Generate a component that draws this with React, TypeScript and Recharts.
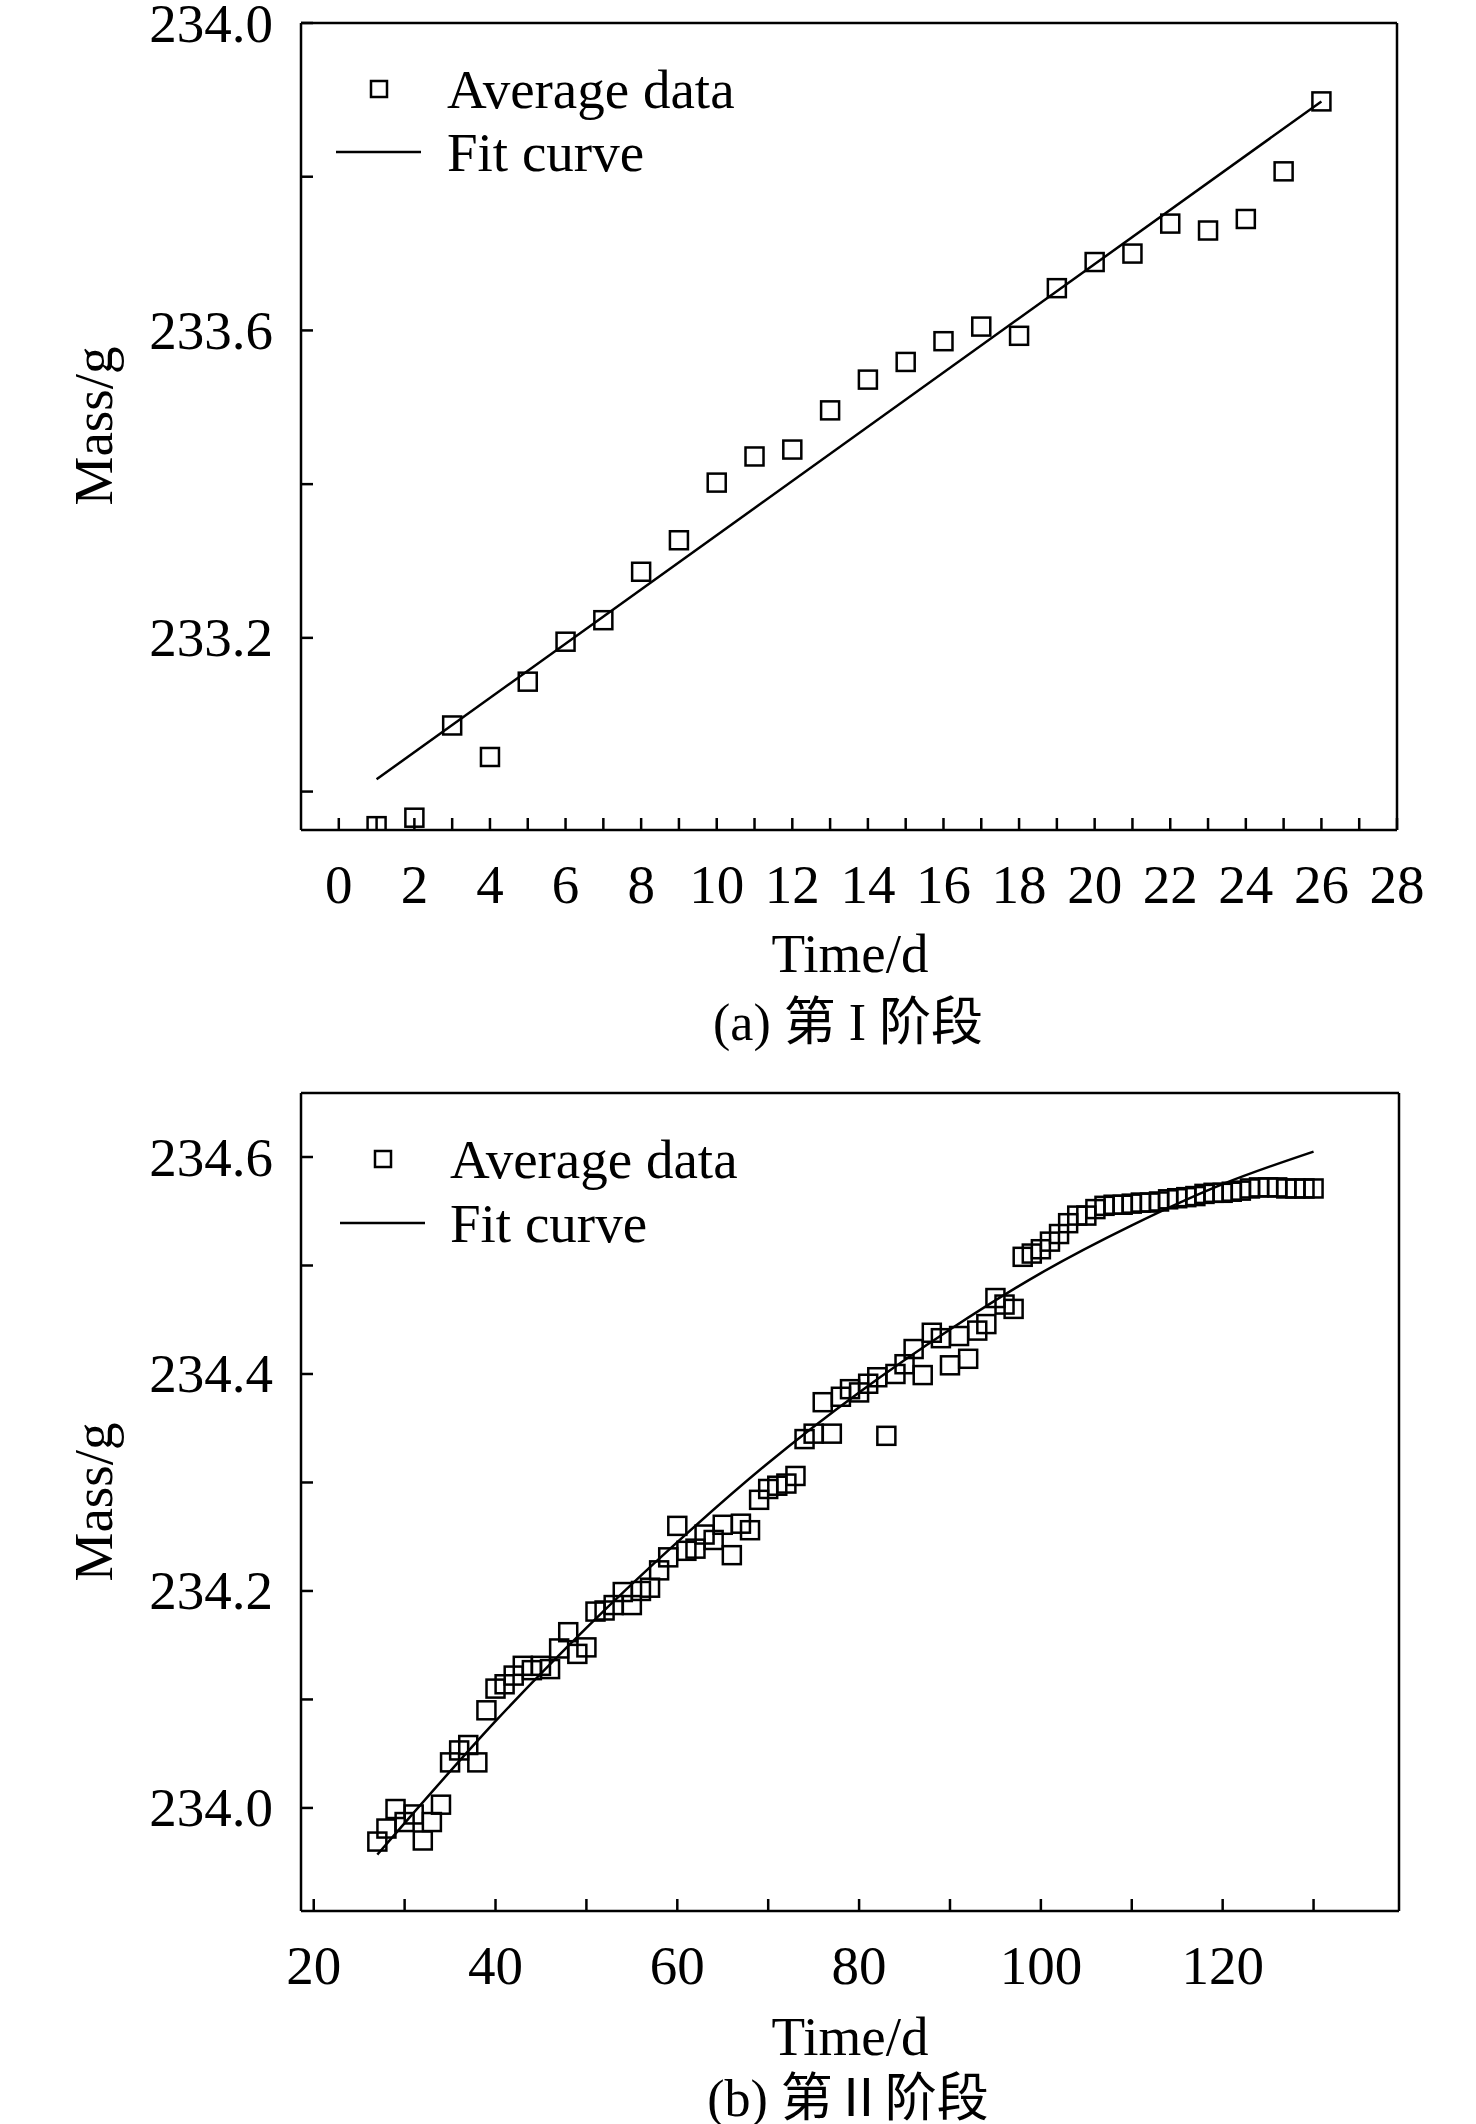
import React from 'react';
import { ComposedChart, Scatter, Line, XAxis, YAxis } from 'recharts';

const daysA = [1,2,3,4,5,6,7,8,9,10,11,12,13,14,15,16,17,18,19,20,21,22,23,24,25,26];
const massA = [232.955,232.966,233.086,233.045,233.143,233.195,233.223,233.286,233.327,233.402,233.436,233.445,233.496,233.536,233.559,233.586,233.605,233.593,233.655,233.689,233.700,233.739,233.730,233.745,233.807,233.898];
const fitDaysA = [1, 26];
const fitMassA = [233.016, 233.898];

const daysB = [27,28,29,30,31,32,33,34,35,36,37,38,39,40,41,42,43,44,45,46,47,48,49,50,51,52,53,54,55,56,57,58,59,60,61,62,63,64,65,66,67,68,69,70,71,72,73,74,75,76,77,78,79,80,81,82,83,84,85,86,87,88,89,90,91,92,93,94,95,96,97,98,99,100,101,102,103,104,105,106,107,108,109,110,111,112,113,114,115,116,117,118,119,120,121,122,123,124,125,126,127,128,129,130];
const massB = [233.969,233.981,233.999,233.987,233.994,233.970,233.987,234.003,234.042,234.053,234.058,234.042,234.090,234.110,234.114,234.122,234.131,234.127,234.131,234.128,234.147,234.162,234.142,234.148,234.181,234.182,234.187,234.199,234.187,234.200,234.203,234.219,234.231,234.260,234.237,234.239,234.252,234.247,234.261,234.233,234.262,234.256,234.284,234.294,234.297,234.299,234.306,234.340,234.345,234.374,234.345,234.379,234.386,234.383,234.391,234.397,234.343,234.400,234.409,234.423,234.399,234.438,234.433,234.408,234.435,234.414,234.440,234.446,234.470,234.464,234.460,234.508,234.511,234.515,234.522,234.529,234.539,234.546,234.546,234.552,234.555,234.556,234.556,234.557,234.558,234.558,234.559,234.561,234.562,234.563,234.564,234.566,234.567,234.567,234.568,234.569,234.571,234.572,234.572,234.572,234.571,234.571,234.571,234.571];
const fitDaysB = [27,30,40,50,60,70,80,90,100,110,120,130];
const fitMassB = [233.957,233.986,234.080,234.166,234.245,234.318,234.383,234.441,234.493,234.537,234.575,234.605];

const xTicksA = [0,1,2,3,4,5,6,7,8,9,10,11,12,13,14,15,16,17,18,19,20,21,22,23,24,25,26,27,28];
const yTicksA = [233.0,233.2,233.4,233.6,233.8,234.0];
const xTicksB = [20,30,40,50,60,70,80,90,100,110,120,130];
const yTicksB = [234.0,234.1,234.2,234.3,234.4,234.5,234.6];

const FONT = '"Liberation Serif", "Times New Roman", serif';
const FS = 55;

const zip = (xs: number[], ys: number[]) => xs.map((x, i) => ({ x, y: ys[i] }));

const Square = (props: any) => {
  const { cx, cy } = props;
  if (cx == null || cy == null) return null;
  return <rect x={cx - 9} y={cy - 9} width={18} height={18} fill="none" stroke="#000" strokeWidth={2.5} />;
};

const makeTick = (isMajor: (v: number) => boolean, fmt: (v: number) => string, anchor: string) => (props: any) => {
  const { x, y, payload } = props;
  const v = payload.value;
  if (!isMajor(v)) return <g />;
  return (
    <text x={x} y={y} textAnchor={anchor} dominantBaseline="central" fontFamily={FONT} fontSize={FS} fill="#000">
      {fmt(v)}
    </text>
  );
};

function Panel(props: any) {
  const { top, height, margin, scatter, fit, xDomain, yDomain, xTicks, yTicks, xMajor, yMajor, legend, caption, titleY, capY, yLabelY } = props;
  const axisStyle = { stroke: '#000', strokeWidth: 2.5 };
  return (
    <div style={{ position: 'absolute', left: 0, top, width: 1476, height }}>
      <ComposedChart width={1476} height={height} margin={margin}>
        <XAxis xAxisId="b" dataKey="x" type="number" domain={xDomain} ticks={xTicks} allowDataOverflow height={1}
          axisLine={axisStyle} tickLine={axisStyle} tickSize={-12} tickMargin={66} interval={0}
          tick={makeTick(xMajor, (v) => String(v), 'middle')} />
        <XAxis xAxisId="t" dataKey="x" type="number" domain={xDomain} allowDataOverflow orientation="top" height={1} tick={false} tickLine={false} axisLine={axisStyle} />
        <YAxis yAxisId="l" type="number" domain={yDomain} ticks={yTicks} allowDataOverflow width={1}
          axisLine={axisStyle} tickLine={axisStyle} tickSize={-12} tickMargin={40} interval={0}
          tick={makeTick(yMajor, (v) => v.toFixed(1), 'end')} />
        <YAxis yAxisId="r" type="number" domain={yDomain} allowDataOverflow orientation="right" width={1} tick={false} tickLine={false} axisLine={axisStyle} />
        <Line xAxisId="b" yAxisId="l" data={fit} dataKey="y" type="monotone" stroke="#000" strokeWidth={2.5} dot={false} isAnimationActive={false} />
        <Scatter xAxisId="b" yAxisId="l" data={scatter} dataKey="y" shape={<Square />} isAnimationActive={false} />
      </ComposedChart>
      <svg width={1476} height={height} style={{ position: 'absolute', left: 0, top: 0, pointerEvents: 'none' }}>
        <rect x={legend.sx - 8} y={legend.sy - 8} width={16} height={16} fill="none" stroke="#000" strokeWidth={2.5} />
        <text x={legend.tx} y={legend.sy} dominantBaseline="central" fontFamily={FONT} fontSize={FS}>Average data</text>
        <line x1={legend.lx1} x2={legend.lx2} y1={legend.ly} y2={legend.ly} stroke="#000" strokeWidth={2.5} />
        <text x={legend.tx} y={legend.ly} dominantBaseline="central" fontFamily={FONT} fontSize={FS}>Fit curve</text>
        <text x={850} y={titleY} textAnchor="middle" dominantBaseline="central" fontFamily={FONT} fontSize={FS}>Time/d</text>
        <text x={848} y={capY} textAnchor="middle" dominantBaseline="central" fontFamily={'"Liberation Serif", "Noto Sans CJK SC", serif'} fontSize={52}>{caption}</text>
        <text x={93} y={yLabelY} textAnchor="middle" dominantBaseline="central" fontFamily={FONT} fontSize={FS} transform={`rotate(-90 93 ${yLabelY})`}>Mass/g</text>
      </svg>
    </div>
  );
}

export default function App() {
  return (
    <div style={{ position: 'absolute', left: 0, top: 0, width: 1476, height: 2124, background: '#fff', overflow: 'hidden' }}>
      <Panel top={0} height={1060} margin={{ top: 22, left: 300, right: 78, bottom: 229 }}
        scatter={zip(daysA, massA)} fit={zip(fitDaysA, fitMassA)}
        xDomain={[-1, 28]} yDomain={[232.95, 234.0]} xTicks={xTicksA} yTicks={yTicksA}
        xMajor={(v: number) => v % 2 === 0} yMajor={(v: number) => Math.round(v * 10) % 4 === 0}
        legend={{ sx: 379, sy: 89, tx: 447, lx1: 336, lx2: 421, ly: 152 }}
        caption="(a) 第 I 阶段" titleY={953} capY={1022} yLabelY={426} />
      <Panel top={1060} height={1064} margin={{ top: 32, left: 300, right: 76, bottom: 212 }}
        scatter={zip(daysB, massB)} fit={zip(fitDaysB, fitMassB)}
        xDomain={[18.6, 139.4]} yDomain={[233.905, 234.659]} xTicks={xTicksB} yTicks={yTicksB}
        xMajor={(v: number) => (v / 10) % 2 === 0} yMajor={(v: number) => Math.round(v * 10) % 2 === 0}
        legend={{ sx: 383, sy: 99, tx: 450, lx1: 340, lx2: 425, ly: 163 }}
        caption="(b) 第Ⅱ阶段" titleY={976} capY={1038} yLabelY={442} />
    </div>
  );
}
